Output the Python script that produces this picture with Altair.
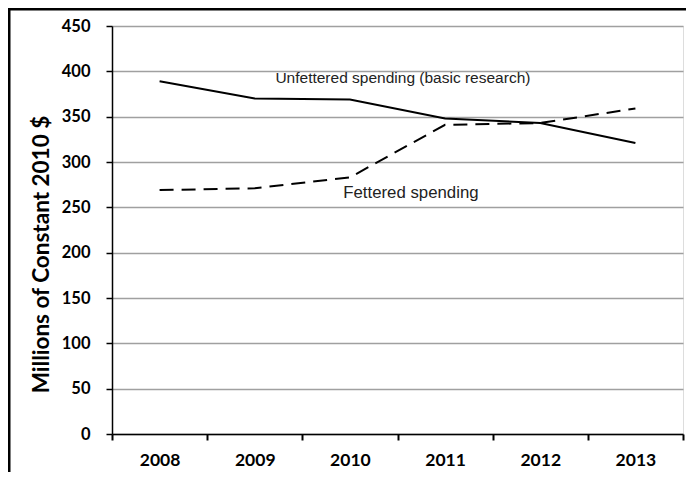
import altair as alt
import pandas as pd

years = ["2008", "2009", "2010", "2011", "2012", "2013"]
unfettered = [389, 370, 369, 348, 343, 321]
fettered = [269, 271, 283, 341, 343, 359]
y_ticks = [0, 50, 100, 150, 200, 250, 300, 350, 400, 450]

label_text = ["Unfettered spending (basic research)", "Fettered spending"]
label_year = ["2010", "2010"]
label_value = [393, 265.5]

df = pd.DataFrame({
    "year": years * 2,
    "value": unfettered + fettered,
    "series": ["Unfettered"] * len(years) + ["Fettered"] * len(years),
})

x_enc = alt.X(
    "year:N",
    sort=years,
    scale=alt.Scale(type="band", domain=years, paddingInner=0, paddingOuter=0),
    axis=alt.Axis(
        title=None, tickBand="extent", labelAngle=0, labelFont="Lato",
        labelFontWeight="bold", labelFontSize=17.5, labelColor="black",
        labelPadding=11, tickSize=6, tickColor="black", tickWidth=2,
        domainColor="black", domainWidth=1.5, grid=False,
    ),
)
y_enc = alt.Y(
    "value:Q",
    scale=alt.Scale(domain=[0, 450], nice=False),
    axis=alt.Axis(
        values=y_ticks, title="Millions of Constant 2010 $", titleFont="Lato",
        titleFontSize=22.5, titleFontWeight="bold", titleColor="black",
        titlePadding=8, titleY=228, labelFont="Lato", labelFontWeight="bold",
        labelFontSize=16.5, labelColor="black", labelPadding=16, tickSize=6,
        tickColor="black", tickWidth=1.5, domainColor="black", domainWidth=1.5,
        grid=True, gridColor="#a0a0a0", gridWidth=1.5,
    ),
)

unf = alt.Chart(df[df.series == "Unfettered"]).mark_line(
    color="black", strokeWidth=2
).encode(x=x_enc, y=y_enc)

fet = alt.Chart(df[df.series == "Fettered"]).mark_line(
    color="black", strokeWidth=2, strokeDash=[14, 8]
).encode(x=alt.X("year:N", sort=years), y="value:Q")

lab1 = pd.DataFrame({"year": [label_year[0]], "value": [label_value[0]], "text": [label_text[0]]})
lab2 = pd.DataFrame({"year": [label_year[1]], "value": [label_value[1]], "text": [label_text[1]]})

txt1 = alt.Chart(lab1).mark_text(
    font="Liberation Sans", fontSize=15.5, color="#222222", dx=53
).encode(x=alt.X("year:N", sort=years), y="value:Q", text="text:N")
txt2 = alt.Chart(lab2).mark_text(
    font="Liberation Sans", fontSize=16.8, color="#222222", dx=61
).encode(x=alt.X("year:N", sort=years), y="value:Q", text="text:N")

border_left = alt.Chart(lab1).mark_rule(color="black", strokeWidth=3).encode(
    x=alt.value(-103), y=alt.value(-17), y2=alt.value(460)
)
border_top = alt.Chart(lab1).mark_rule(color="black", strokeWidth=3).encode(
    x=alt.value(-104), x2=alt.value(590), y=alt.value(-17)
)

chart = alt.layer(unf, fet, txt1, txt2, border_left, border_top).properties(
    width=571, height=408,
    autosize=alt.AutoSizeParams(type="none"),
    padding={"left": 104, "top": 18, "right": 3, "bottom": 38},
).configure_view(stroke=None).configure(background="white")

chart.save("out.html", embed_options={"renderer": "svg", "actions": False})
